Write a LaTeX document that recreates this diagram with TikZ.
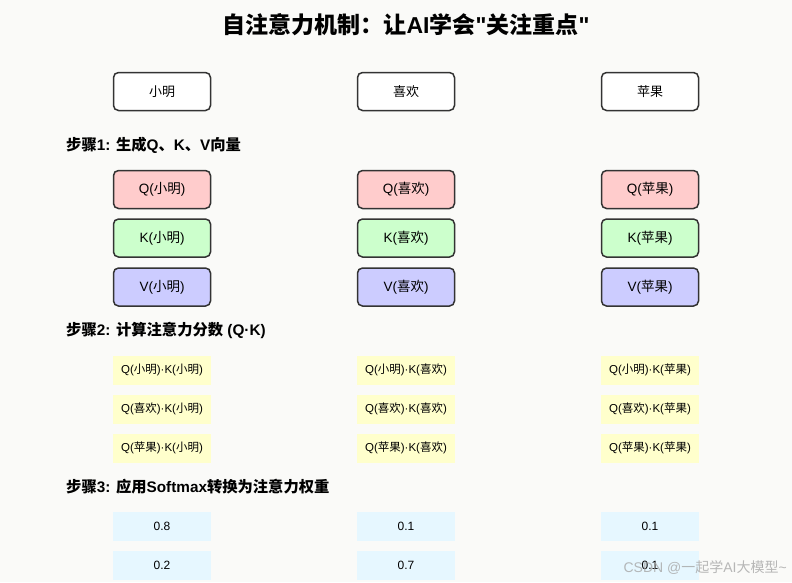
\documentclass[tikz,border=0pt]{standalone}
\usepackage{fontspec}
\setmainfont{Liberation Sans}
\newfontfamily\cjk{Noto Sans CJK SC}
\newcommand\zh[1]{{\cjk #1}}
\newcommand\dq{\XeTeXglyph\XeTeXcharglyph"22\relax}
\definecolor{bgc}{RGB}{250,250,248}
\definecolor{edgec}{RGB}{51,51,51}
\definecolor{qc}{RGB}{255,204,204}
\definecolor{kc}{RGB}{204,255,204}
\definecolor{vc}{RGB}{204,204,255}
\definecolor{sc}{RGB}{255,255,204}
\definecolor{wc}{RGB}{230,247,255}
\tikzset{
  fs/.style={font=\fontsize{#1}{#1}\selectfont},
  wordbox/.style={draw=edgec, line width=1.5pt, rounded corners=5pt, fill=white,
    minimum width=97pt, minimum height=38pt, inner sep=0pt, fs=13},
  vecbox/.style={wordbox, fill=#1, fs=13.5},
  scorebox/.style={fill=sc, minimum width=98pt, minimum height=29pt, inner sep=0pt, fs=11.5},
  wbox/.style={fill=wc, minimum width=98pt, minimum height=29pt, inner sep=0pt, fs=12},
  steplabel/.style={anchor=west, inner sep=0pt, font=\fontsize{15.3}{15.3}\selectfont\bfseries},
}
\begin{document}
\begin{tikzpicture}[x=1pt,y=-1pt]
\fill[bgc] (0,0) rectangle (792,582);
\useasboundingbox (0,0) rectangle (792,582);

\node[font=\fontsize{23}{23}\selectfont\bfseries] (title) at (406,25)
  {\zh{自注意力机制：让}AI\zh{学会}\dq\zh{关注重点}\dq};

% words
\node[wordbox] (w1) at (162,91.5) {\zh{小明}};
\node[wordbox] (w2) at (406,91.5) {\zh{喜欢}};
\node[wordbox] (w3) at (650,91.5) {\zh{苹果}};

% step 1
\node[steplabel] (s1) at (66,145) {\zh{步骤}1: \zh{生成}Q\zh{、}K\zh{、}V\zh{向量}};
\node[vecbox=qc] (q1) at (162,189.5) {Q(\zh{小明})};
\node[vecbox=qc] (q2) at (406,189.5) {Q(\zh{喜欢})};
\node[vecbox=qc] (q3) at (650,189.5) {Q(\zh{苹果})};
\node[vecbox=kc] (k1) at (162,238) {K(\zh{小明})};
\node[vecbox=kc] (k2) at (406,238) {K(\zh{喜欢})};
\node[vecbox=kc] (k3) at (650,238) {K(\zh{苹果})};
\node[vecbox=vc] (v1) at (162,287) {V(\zh{小明})};
\node[vecbox=vc] (v2) at (406,287) {V(\zh{喜欢})};
\node[vecbox=vc] (v3) at (650,287) {V(\zh{苹果})};

% step 2
\node[steplabel] (s2) at (66,330) {\zh{步骤}2: \zh{计算注意力分数} (Q·K)};
\node[scorebox] (a11) at (162,370) {Q(\zh{小明})·K(\zh{小明})};
\node[scorebox] (a12) at (406,370) {Q(\zh{小明})·K(\zh{喜欢})};
\node[scorebox] (a13) at (650,370) {Q(\zh{小明})·K(\zh{苹果})};
\node[scorebox] (a21) at (162,409) {Q(\zh{喜欢})·K(\zh{小明})};
\node[scorebox] (a22) at (406,409) {Q(\zh{喜欢})·K(\zh{喜欢})};
\node[scorebox] (a23) at (650,409) {Q(\zh{喜欢})·K(\zh{苹果})};
\node[scorebox] (a31) at (162,448) {Q(\zh{苹果})·K(\zh{小明})};
\node[scorebox] (a32) at (406,448) {Q(\zh{苹果})·K(\zh{喜欢})};
\node[scorebox] (a33) at (650,448) {Q(\zh{苹果})·K(\zh{苹果})};

% step 3
\node[steplabel] (s3) at (66,487) {\zh{步骤}3: \zh{应用}Softmax\zh{转换为注意力权重}};
\node[wbox] (p11) at (162,526) {0.8};
\node[wbox] (p12) at (406,526) {0.1};
\node[wbox] (p13) at (650,526) {0.1};
\node[wbox] (p21) at (162,565) {0.2};
\node[wbox] (p22) at (406,565) {0.7};
\node[wbox] (p23) at (650,565) {0.1};

% watermark
\node[anchor=east, inner sep=0pt, text=black!35, text opacity=0.8, fs=14] (wm) at (787,568)
  {CSDN @\zh{一起学}AI\zh{大模型}\textasciitilde};
\end{tikzpicture}
\end{document}
